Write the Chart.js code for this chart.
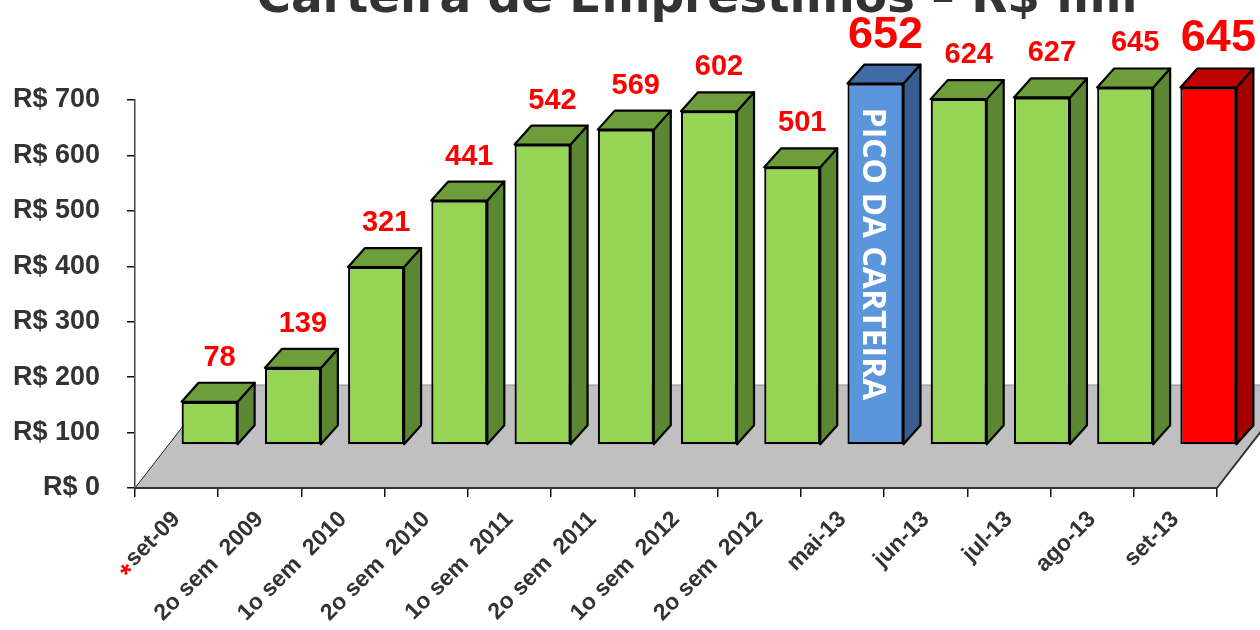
<!DOCTYPE html>
<html>
<head>
<meta charset="utf-8">
<script src="https://cdn.jsdelivr.net/npm/chart.js@4.4.1/dist/chart.umd.min.js"></script>
<style>
  html, body { margin: 0; padding: 0; background: #fff; }
</style>
</head>
<body>
<canvas id="myChart" width="1260" height="630"></canvas>
<script>
const titleText = 'Carteira de Empréstimos – R$ mil';
const categories = ['set-09', '2o sem  2009', '1o sem  2010', '2o sem  2010', '1o sem  2011', '2o sem  2011',
  '1o sem  2012', '2o sem  2012', 'mai-13', 'jun-13', 'jul-13', 'ago-13', 'set-13'];
const values = [78, 139, 321, 441, 542, 569, 602, 501, 652, 624, 627, 645, 645];
const barKinds = ['g', 'g', 'g', 'g', 'g', 'g', 'g', 'g', 'b', 'g', 'g', 'g', 'r'];
const bigLabels = [false, false, false, false, false, false, false, false, true, false, false, false, true];
const yTickValues = [0, 100, 200, 300, 400, 500, 600, 700];
const peakNote = 'PICO DA CARTEIRA';

const faceColors = {
  g: { front: '#96d455', top: '#6e9e3b', side: '#5b8732' },
  b: { front: '#5b95db', top: '#3f6ca6', side: '#365d8e' },
  r: { front: '#ff0000', top: '#c00000', side: '#a30000' }
};

// 3d look: bars moved back onto the floor, plus top and side faces
const SHIFT_X = 33, SHIFT_Y = -43;
const DEPTH_X = 17, DEPTH_Y = -19;
const FLOOR_X = 80, FLOOR_Y = -103;
const X_FONT = 23;

const bars3d = {
  id: 'bars3d',
  beforeDatasetsDraw(chart) {
    const ctx = chart.ctx;
    const area = chart.chartArea;
    const base = chart.scales.y.getPixelForValue(0);
    ctx.save();
    ctx.beginPath();
    ctx.moveTo(area.left, base);
    ctx.lineTo(area.right, base);
    ctx.lineTo(area.right + FLOOR_X, base + FLOOR_Y);
    ctx.lineTo(area.left + FLOOR_X, base + FLOOR_Y);
    ctx.closePath();
    ctx.fillStyle = '#c0c0c0';
    ctx.fill();
    ctx.lineWidth = 1;
    ctx.strokeStyle = '#8c8c8c';
    ctx.beginPath();
    ctx.moveTo(area.left + FLOOR_X, base + FLOOR_Y);
    ctx.lineTo(area.right + FLOOR_X, base + FLOOR_Y);
    ctx.stroke();
    ctx.strokeStyle = '#222';
    ctx.beginPath();
    ctx.moveTo(area.left, base);
    ctx.lineTo(area.left + FLOOR_X, base + FLOOR_Y);
    ctx.stroke();
    ctx.lineWidth = 2;
    ctx.strokeStyle = '#333';
    ctx.beginPath();
    ctx.moveTo(area.right, base);
    ctx.lineTo(area.right + FLOOR_X, base + FLOOR_Y);
    ctx.moveTo(area.left, base);
    ctx.lineTo(area.right, base);
    ctx.stroke();
    ctx.restore();

    ctx.save();
    ctx.translate(SHIFT_X, SHIFT_Y);
  },
  afterDatasetsDraw(chart) {
    const ctx = chart.ctx;
    const meta = chart.getDatasetMeta(0);
    ctx.lineWidth = 2.2;
    ctx.lineJoin = 'round';
    ctx.strokeStyle = '#000';
    meta.data.forEach((el, i) => {
      const p = el.getProps(['x', 'y', 'base', 'width'], true);
      const l = p.x - p.width / 2, r = p.x + p.width / 2;
      const c = faceColors[barKinds[i]];
      ctx.beginPath();
      ctx.moveTo(r, p.y);
      ctx.lineTo(r + DEPTH_X, p.y + DEPTH_Y);
      ctx.lineTo(r + DEPTH_X, p.base + DEPTH_Y);
      ctx.lineTo(r, p.base);
      ctx.closePath();
      ctx.fillStyle = c.side;
      ctx.fill();
      ctx.stroke();
      ctx.beginPath();
      ctx.moveTo(l, p.y);
      ctx.lineTo(l + DEPTH_X, p.y + DEPTH_Y);
      ctx.lineTo(r + DEPTH_X, p.y + DEPTH_Y);
      ctx.lineTo(r, p.y);
      ctx.closePath();
      ctx.fillStyle = c.top;
      ctx.fill();
      ctx.stroke();
    });
    ctx.restore();

    // value labels and the peak note
    ctx.save();
    ctx.fillStyle = '#ff0000';
    ctx.textAlign = 'center';
    ctx.textBaseline = 'alphabetic';
    meta.data.forEach((el, i) => {
      ctx.font = bigLabels[i] ? 'bold 45px "Liberation Sans", Arial' : 'bold 29px "Liberation Sans", Arial';
      ctx.fillText(String(values[i]), el.x + SHIFT_X + 10, el.y + SHIFT_Y - 36);
    });
    const peak = barKinds.indexOf('b');
    const pel = meta.data[peak];
    ctx.translate(pel.x + SHIFT_X - 3, (pel.y + pel.base) / 2 + SHIFT_Y - 10);
    ctx.rotate(Math.PI / 2);
    ctx.fillStyle = '#fff';
    ctx.textBaseline = 'middle';
    ctx.font = 'bold 32px "Open Sans"';
    ctx.fillText(peakNote, 0, 0);
    ctx.restore();
  },
  afterDraw(chart) {
    const ctx = chart.ctx;
    ctx.save();
    ctx.fillStyle = '#333';
    ctx.textAlign = 'center';
    ctx.textBaseline = 'alphabetic';
    ctx.font = 'bold 47px "DejaVu Sans"';
    ctx.fillText(titleText, 697, 12);

    // red asterisk in front of the first category label
    const xs = chart.scales.x;
    ctx.font = 'bold ' + X_FONT + 'px "Liberation Sans", Arial';
    const w = ctx.measureText(categories[0]).width;
    ctx.translate(xs.getPixelForTick(0), xs.top + 9 + 9);
    ctx.rotate(-Math.PI / 4);
    ctx.fillStyle = '#ff0000';
    ctx.textAlign = 'right';
    ctx.textBaseline = 'middle';
    ctx.font = 'bold 28px "Liberation Sans", Arial';
    ctx.fillText('*', -w - 9, X_FONT * 0.6 + 1);
    ctx.restore();
  }
};

new Chart(document.getElementById('myChart'), {
  type: 'bar',
  data: {
    labels: categories,
    datasets: [{
      data: values,
      backgroundColor: barKinds.map(k => faceColors[k].front),
      borderColor: '#000',
      borderWidth: 2.2,
      borderSkipped: false,
      barPercentage: 0.673,
      categoryPercentage: 1,
      clip: false
    }]
  },
  options: {
    responsive: false,
    animation: false,
    events: [],
    layout: { padding: { top: 100, right: 43, left: 0, bottom: 0 } },
    plugins: { legend: { display: false }, title: { display: false }, tooltip: { enabled: false } },
    scales: {
      x: {
        afterFit: s => { s.height = 142; },
        grid: { drawOnChartArea: false, tickLength: 9, color: '#111', lineWidth: 1.5 },
        border: { color: '#222', width: 2 },
        ticks: {
          autoSkip: false, minRotation: 45, maxRotation: 45, padding: 9,
          color: '#333', font: { family: '"Liberation Sans", Arial', size: X_FONT, weight: 'bold' }
        }
      },
      y: {
        min: 0, max: 700,
        afterFit: s => { s.width = 135; },
        afterBuildTicks: s => { s.ticks = yTickValues.map(v => ({ value: v })); },
        grid: { drawOnChartArea: false, tickLength: 8, color: '#111', lineWidth: 1.5 },
        border: { color: '#444', width: 1.5 },
        ticks: {
          padding: 27, color: '#333',
          font: { family: '"Liberation Sans", Arial', size: 27, weight: 'bold' },
          callback: v => 'R$ ' + v
        }
      }
    }
  },
  plugins: [bars3d]
});
</script>
</body>
</html>
